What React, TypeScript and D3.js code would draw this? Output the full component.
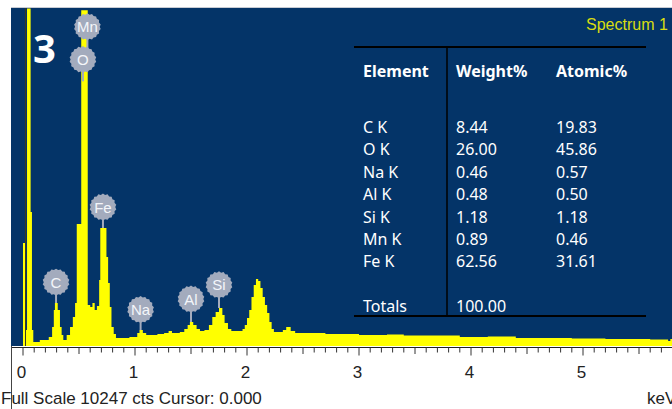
import * as d3 from "d3";

// spectrum: step levels, energy in keV where each level starts, counts at that level
const energyKeV = [
  0.0, 0.018, 0.036, 0.068, 0.08, 0.092, 0.15, 0.23, 0.26, 0.275, 0.285, 0.31, 0.33, 0.345, 0.36,
  0.39, 0.42, 0.445, 0.465, 0.48, 0.52, 0.578, 0.6, 0.62, 0.64, 0.66, 0.68, 0.69, 0.745, 0.76,
  0.775, 0.79, 0.81, 0.83, 0.95, 1.02, 1.04, 1.07, 1.1, 1.2, 1.26, 1.3, 1.33, 1.4, 1.44, 1.47,
  1.49, 1.52, 1.55, 1.58, 1.62, 1.66, 1.69, 1.72, 1.75, 1.78, 1.8, 1.83, 1.86, 1.96, 1.98, 2.0,
  2.02, 2.04, 2.06, 2.08, 2.1, 2.12, 2.14, 2.16, 2.18, 2.2, 2.22, 2.24, 2.32, 2.35, 2.39, 2.43,
  2.7, 3.0, 3.25, 3.4, 3.9, 4.15, 4.4, 4.9, 5.2, 5.6, 5.76, 5.78, 5.8,
];
const countsCts = [
  3114, 484, 10200, 4051, 484, 121, 181, 272, 574, 1088, 1300, 1088, 574, 333, 181,
  333, 574, 877, 1300, 3688, 10150, 1239, 1179, 1300, 1088, 1209, 1995, 3567, 2690, 1904,
  1179, 574, 363, 242, 272, 393, 484, 393, 333, 363, 393, 453, 393, 423, 514, 635,
  726, 635, 514, 453, 484, 635, 877, 1028, 1149, 937, 695, 514, 453, 514, 635, 846,
  1088, 1481, 1844, 2025, 1965, 1753, 1481, 1239, 998, 726, 514, 423, 484, 574, 453, 393,
  363, 333, 345, 317, 272, 290, 242, 227, 212, 196, 151, 212, 212,
];

// peak markers
const peakElements = ["Mn", "O", "Fe", "C", "Na", "Al", "Si"];
const peakLabelKeV = [0.575, 0.535, 0.714, 0.295, 1.05, 1.5, 1.75];
const peakLabelCts = [9650, 8660, 4200, 1930, 1100, 1420, 1850];
const peakTopCts = [8660, 8000, 3567, 1300, 484, 726, 1149];

// quantification table
const tableElements = ["C K", "O K", "Na K", "Al K", "Si K", "Mn K", "Fe K"];
const weightPct = ["8.44", "26.00", "0.46", "0.48", "1.18", "0.89", "62.56"];
const atomicPct = ["19.83", "45.86", "0.57", "0.50", "1.18", "0.46", "31.61"];
const totalWeight = "100.00";

const fullScale = 10247;
const cursorKeV = 0.0;
const majorTicks = [0, 1, 2, 3, 4, 5];

const W = 672;
const H = 409;
const plot = { left: 11, top: 8, right: 672, bottom: 346 };

export default function App() {
  const x = d3.scaleLinear().domain([0, 5.8]).range([23, 23 + 5.8 * 112]);
  const y = d3.scaleLinear().domain([0, fullScale]).range([plot.bottom, 7]);

  const pts = energyKeV.map((e, i) => ({ e, c: countsCts[i] }));
  const area = d3
    .area<{ e: number; c: number }>()
    .x((d) => x(d.e))
    .y0(y(0))
    .y1((d) => y(d.c))
    .curve(d3.curveStepAfter);

  // gear shaped badge
  const teeth = 18;
  const badge = d3
    .lineRadial<number>()
    .angle((d) => (d / (teeth * 2)) * Math.PI * 2)
    .radius((d) => (d % 2 === 0 ? 13.5 : 12.3))
    .curve(d3.curveLinearClosed);
  const badgePath = badge(d3.range(teeth * 2)) || "";

  const minor = d3.range(0, 58).map((i) => i / 10);

  const rowY = (i: number) => 133 + i * 22.4;
  const colX = [363, 456, 556];

  return (
    <svg
      width={W}
      height={H}
      style={{ position: "absolute", left: 0, top: 0 }}
      fontFamily="'Liberation Sans', Arial, sans-serif"
    >
      <rect width={W} height={H} fill="#ffffff" />
      <defs>
        <clipPath id="plotclip">
          <rect x={plot.left} y={plot.top} width={plot.right - plot.left} height={plot.bottom - plot.top} />
        </clipPath>
      </defs>
      <line x1={plot.left} x2={W} y1={7.5} y2={7.5} stroke="#c8ccd4" />
      <rect
        x={plot.left}
        y={plot.top}
        width={plot.right - plot.left}
        height={plot.bottom - plot.top}
        fill="#043468"
      />

      <g clipPath="url(#plotclip)">
        <path d={area(pts) || ""} fill="#ffff00" />
        <line
          x1={x(cursorKeV) + 2.5}
          x2={x(cursorKeV) + 2.5}
          y1={plot.top}
          y2={plot.bottom}
          stroke="#3a3a20"
          strokeWidth={1}
        />
      </g>

      {/* peak badges */}
      {peakElements.map((el, i) => {
        const cx = x(peakLabelKeV[i]);
        const cy = y(peakLabelCts[i]);
        return (
          <g key={el}>
            <line x1={cx} x2={cx} y1={cy + 12} y2={y(peakTopCts[i])} stroke="#a3abbd" strokeWidth={2} />
            <path d={badgePath} transform={`translate(${cx},${cy})`} fill="#a3abbd" />
            <text x={cx} y={cy + 5.5} textAnchor="middle" fontSize={15} fill="#f4f6fa">
              {el}
            </text>
          </g>
        );
      })}

      <text x={33} y={63} fontFamily="'Open Sans', sans-serif" fontWeight="bold" fontSize={40} fill="#ffffff">
        3
      </text>

      <text x={586} y={30} fontSize={16} fill="#d8dc10">
        Spectrum 1
      </text>

      {/* table */}
      <g fontFamily="'Noto Sans', 'Open Sans', sans-serif" fill="#ffffff" fontSize={16}>
        <line x1={354} x2={646} y1={47} y2={47} stroke="#000000" strokeWidth={2} />
        <line x1={354} x2={646} y1={316} y2={316} stroke="#000000" strokeWidth={2} />
        <line x1={447} x2={447} y1={47} y2={316} stroke="#000000" strokeWidth={1.5} />
        <g fontWeight="bold">
          <text x={colX[0]} y={77}>Element</text>
          <text x={colX[1]} y={77}>Weight%</text>
          <text x={colX[2]} y={77}>Atomic%</text>
        </g>
        {tableElements.map((el, i) => (
          <g key={el}>
            <text x={colX[0]} y={rowY(i)}>{el}</text>
            <text x={colX[1]} y={rowY(i)}>{weightPct[i]}</text>
            <text x={colX[2]} y={rowY(i)}>{atomicPct[i]}</text>
          </g>
        ))}
        <text x={colX[0]} y={312}>Totals</text>
        <text x={colX[1]} y={312}>{totalWeight}</text>
      </g>

      {/* energy axis */}
      <line x1={plot.left} x2={W} y1={347.5} y2={347.5} stroke="#222" />
      <line x1={11.5} x2={11.5} y1={346} y2={H} stroke="#444" />
      {minor.map((t) => {
        const isMajor = Math.abs(t - Math.round(t)) < 1e-6;
        const isHalf = Math.abs(t * 2 - Math.round(t * 2)) < 1e-6;
        const len = isMajor ? 8 : isHalf ? 6.5 : 5;
        return <line key={t} x1={x(t)} x2={x(t)} y1={347.5} y2={347.5 + len} stroke="#333" />;
      })}
      {majorTicks.map((t) => (
        <text key={t} x={x(t) - 1.5} y={378} textAnchor="middle" fontSize={17} fill="#222">
          {t}
        </text>
      ))}
      <text x={1} y={404} fontSize={17} fill="#222">
        {`Full Scale ${fullScale} cts Cursor: ${cursorKeV.toFixed(3)}`}
      </text>
      <text x={647} y={404} fontSize={17} fill="#222">
        keV
      </text>
    </svg>
  );
}
